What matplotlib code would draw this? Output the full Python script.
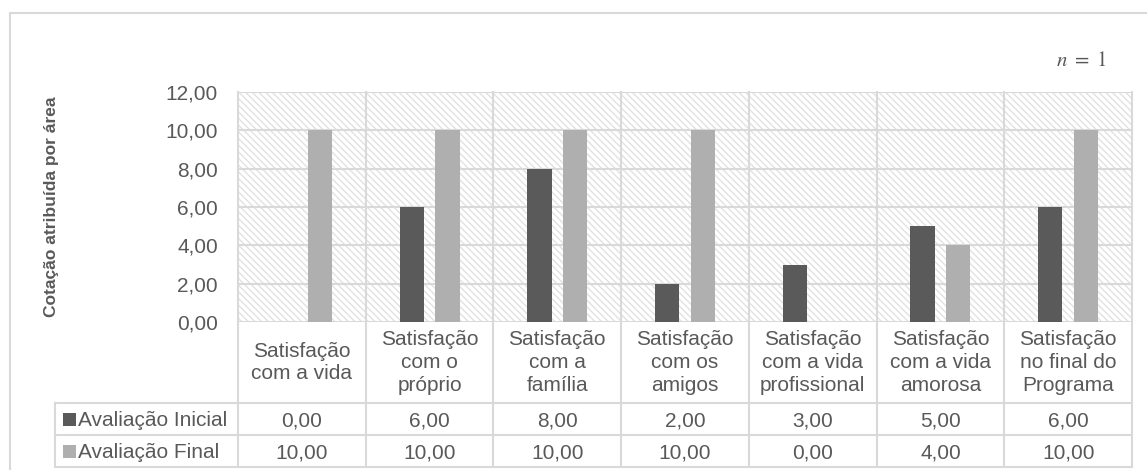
import matplotlib
matplotlib.use("Agg")
import matplotlib.pyplot as plt
from matplotlib.patches import Rectangle
from matplotlib.lines import Line2D
from matplotlib import transforms

# Data
categories = [
    "Satisfação\ncom a vida",
    "Satisfação\ncom o\npróprio",
    "Satisfação\ncom a\nfamília",
    "Satisfação\ncom os\namigos",
    "Satisfação\ncom a vida\nprofissional",
    "Satisfação\ncom a vida\namorosa",
    "Satisfação\nno final do\nPrograma",
]
series_names = ["Avaliação Inicial", "Avaliação Final"]
avaliacao_inicial = [0.0, 6.0, 8.0, 2.0, 3.0, 5.0, 6.0]
avaliacao_final = [10.0, 10.0, 10.0, 10.0, 0.0, 4.0, 10.0]
y_ticks = [0, 2, 4, 6, 8, 10, 12]
y_label = "Cotação atribuída por área"
note = r"$n\ =\ 1$"

plt.rcParams["font.family"] = ["Liberation Sans", "DejaVu Sans"]
plt.rcParams["mathtext.fontset"] = "stix"
plt.rcParams["hatch.linewidth"] = 1.0

W, H = 1147, 470
DPI = 100
fig = plt.figure(figsize=(W / DPI, H / DPI), dpi=DPI)
fig.patch.set_facecolor("white")


def fx(px):
    return px / W


def fy(py):
    return 1 - py / H


TEXT = "#595959"
GRID = "#d9d9d9"
DARK = "#5a5a5a"
LIGHT = "#afafaf"
FS = 15

left, right, top, bottom = 238, 1132, 92, 322
ax = fig.add_axes([fx(left), fy(bottom), fx(right - left), fy(top) - fy(bottom)])
n = len(categories)
ax.set_xlim(-0.5, n - 0.5)
ax.set_ylim(0, 12)
for s in ax.spines.values():
    s.set_visible(False)
ax.set_xticks([])
ax.set_yticks(y_ticks)
ax.set_yticklabels([f"{v:.2f}".replace(".", ",") for v in y_ticks])
ax.tick_params(axis="y", length=0, pad=14.4, labelsize=FS, labelcolor=TEXT)

# hatched plot background
ax.add_patch(Rectangle((0, 0), 1, 1, transform=ax.transAxes, facecolor="white",
                       edgecolor="#e2e2e2", lw=0, hatch="\\" * 5, zorder=0))

# horizontal gridlines
for v in y_ticks:
    ax.axhline(v, color=GRID, lw=1.5, zorder=1)

# bars
bw = 0.19
off = 0.14
xs = list(range(n))
ax.bar([x - off for x in xs], avaliacao_inicial, width=bw, color=DARK, zorder=3)
ax.bar([x + off for x in xs], avaliacao_final, width=bw, color=LIGHT, zorder=3)

ax.set_ylabel(y_label, fontsize=12.5, fontweight="bold", color=TEXT)
ax.yaxis.set_label_coords(fx(59 - left) / fx(right - left), 0.5)

# data table below the axes
blend = transforms.blended_transform_factory(ax.transData, fig.transFigure)
row_label_y = (bottom + 403) / 2
row_y = [(403 + 435) / 2, (435 + 467) / 2]
table_bottom = 467

# vertical column boundaries through plot and table
for i in range(n + 1):
    xb = i - 0.5
    fig.add_artist(Line2D([xb, xb], [fy(top), fy(table_bottom)], transform=blend,
                          color=GRID, lw=1.5, clip_on=False, zorder=2))
# horizontal table lines
for yy in [403, 435, table_bottom]:
    fig.add_artist(Line2D([fx(55), fx(right)], [fy(yy), fy(yy)], color=GRID, lw=1.5))
fig.add_artist(Line2D([fx(55), fx(55)], [fy(403), fy(table_bottom)], color=GRID, lw=1.5))

for i, cat in enumerate(categories):
    fig.text(i, fy(row_label_y), cat, transform=blend, ha="center", va="center",
             fontsize=FS, color=TEXT, linespacing=1.25)

for r, (name, vals, col) in enumerate(zip(series_names,
                                           [avaliacao_inicial, avaliacao_final],
                                           [DARK, LIGHT])):
    yc = row_y[r]
    fig.add_artist(Rectangle((fx(63), fy(yc + 6.5)), fx(13), fy(0) - fy(13),
                             transform=fig.transFigure, facecolor=col, edgecolor="none"))
    fig.text(fx(78), fy(yc), name, ha="left", va="center_baseline", fontsize=FS, color=TEXT)
    for i, v in enumerate(vals):
        fig.text(i, fy(yc), f"{v:.2f}".replace(".", ","), transform=blend,
                 ha="center", va="center_baseline", fontsize=FS, color=TEXT)

# sample size note
fig.text(fx(1107), fy(61), note, ha="right", va="center", fontsize=15, color=TEXT)

# chart frame
fig.add_artist(Line2D([fx(10), 1.0], [fy(13), fy(13)], color=GRID, lw=1.5))
fig.add_artist(Line2D([fx(10), fx(10)], [fy(13), 0.0], color=GRID, lw=1.5))

fig.savefig("out.png", dpi=DPI, facecolor="white")
